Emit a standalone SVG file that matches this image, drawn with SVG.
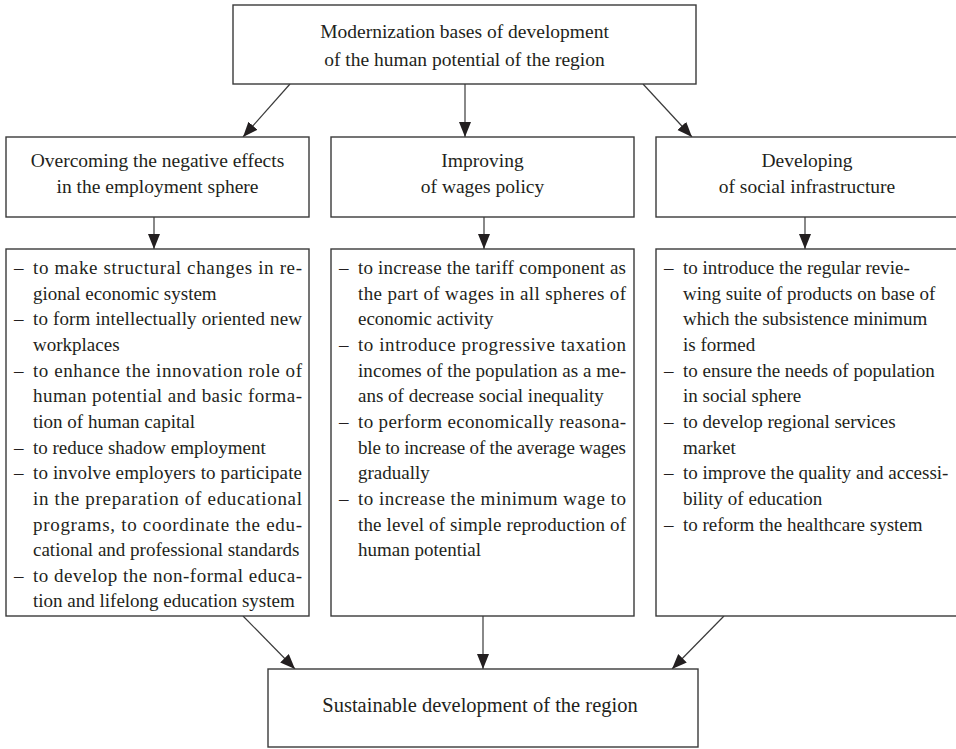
<svg xmlns="http://www.w3.org/2000/svg" width="956" height="749" viewBox="0 0 956 749">
  <defs>
    <marker id="arrow" markerUnits="userSpaceOnUse" markerWidth="16" markerHeight="13" refX="15" refY="6" orient="auto">
      <path d="M0,0 L15,6 L0,12 z" fill="#231f20"/>
    </marker>
    <style>
      .box { fill: #ffffff; stroke: #3a3a3a; stroke-width: 1.4; }
      .title { font-family: "Liberation Serif", "Times New Roman", serif; font-size: 19.5px; fill: #231f20; text-anchor: middle; }
      .item { font-family: "Liberation Serif", "Times New Roman", serif; font-size: 19px; fill: #231f20; }
      .link { stroke: #3a3a3a; stroke-width: 1.2; fill: none; marker-end: url(#arrow); }
    </style>
  </defs>

  <rect width="956" height="749" fill="#ffffff"/>

  <!-- connectors -->
  <g id="connectors">
    <line class="link" x1="290" y1="84" x2="243" y2="137"/>
    <line class="link" x1="465" y1="84" x2="465" y2="137"/>
    <line class="link" x1="643" y1="84" x2="692" y2="137"/>
    <line class="link" x1="154" y1="217" x2="154" y2="249"/>
    <line class="link" x1="484" y1="217" x2="484" y2="249"/>
    <line class="link" x1="805" y1="217" x2="805" y2="249"/>
    <line class="link" x1="243" y1="616" x2="295" y2="669"/>
    <line class="link" x1="483" y1="616" x2="483" y2="669"/>
    <line class="link" x1="724" y1="616" x2="672" y2="669"/>
  </g>

  <!-- root -->
  <g id="modernization">
    <rect class="box" x="233" y="5" width="463" height="79"/>
    <text class="title" x="464.5" y="38">Modernization bases of development</text>
    <text class="title" x="464.5" y="66">of the human potential of the region</text>
  </g>

  <!-- directions -->
  <g id="employment">
    <rect class="box" x="6" y="137" width="303" height="80"/>
    <text class="title" x="157.5" y="167">Overcoming the negative effects</text>
    <text class="title" x="157.5" y="193">in the employment sphere</text>
  </g>
  <g id="wages">
    <rect class="box" x="331" y="137" width="303" height="80"/>
    <text class="title" x="482.5" y="167">Improving</text>
    <text class="title" x="482.5" y="193">of wages policy</text>
  </g>
  <g id="infrastructure">
    <rect class="box" x="656" y="137" width="304" height="80"/>
    <text class="title" x="807" y="167">Developing</text>
    <text class="title" x="807" y="193">of social infrastructure</text>
  </g>

  <!-- measures: employment -->
  <g id="employment-measures">
    <rect class="box" x="6" y="249" width="303" height="367"/>
    <text class="item" x="14" y="274">–</text>
    <text class="item" x="33" y="274" textLength="269" lengthAdjust="spacing">to make structural changes in re-</text>
    <text class="item" x="33" y="299.6">gional economic system</text>
    <text class="item" x="14" y="325.3">–</text>
    <text class="item" x="33" y="325.3" textLength="269" lengthAdjust="spacing">to form intellectually oriented new</text>
    <text class="item" x="33" y="350.9">workplaces</text>
    <text class="item" x="14" y="376.6">–</text>
    <text class="item" x="33" y="376.6" textLength="269" lengthAdjust="spacing">to enhance the innovation role of</text>
    <text class="item" x="33" y="402.2" textLength="269" lengthAdjust="spacing">human potential and basic forma-</text>
    <text class="item" x="33" y="427.9">tion of human capital</text>
    <text class="item" x="14" y="453.5">–</text>
    <text class="item" x="33" y="453.5">to reduce shadow employment</text>
    <text class="item" x="14" y="479.2">–</text>
    <text class="item" x="33" y="479.2" textLength="269" lengthAdjust="spacing">to involve employers to participate</text>
    <text class="item" x="33" y="504.8" textLength="269" lengthAdjust="spacing">in the preparation of educational</text>
    <text class="item" x="33" y="530.5" textLength="269" lengthAdjust="spacing">programs, to coordinate the edu-</text>
    <text class="item" x="33" y="556.1">cational and professional standards</text>
    <text class="item" x="14" y="581.8">–</text>
    <text class="item" x="33" y="581.8" textLength="269" lengthAdjust="spacing">to develop the non-formal educa-</text>
    <text class="item" x="33" y="607.4">tion and lifelong education system</text>
  </g>

  <!-- measures: wages -->
  <g id="wages-measures">
    <rect class="box" x="331" y="249" width="303" height="367"/>
    <text class="item" x="339" y="274">–</text>
    <text class="item" x="358" y="274" textLength="268" lengthAdjust="spacing">to increase the tariff component as</text>
    <text class="item" x="358" y="299.6" textLength="268" lengthAdjust="spacing">the part of wages in all spheres of</text>
    <text class="item" x="358" y="325.3">economic activity</text>
    <text class="item" x="339" y="350.9">–</text>
    <text class="item" x="358" y="350.9" textLength="268" lengthAdjust="spacing">to introduce progressive taxation</text>
    <text class="item" x="358" y="376.6" textLength="268" lengthAdjust="spacing">incomes of the population as a me-</text>
    <text class="item" x="358" y="402.2">ans of decrease social inequality</text>
    <text class="item" x="339" y="427.9">–</text>
    <text class="item" x="358" y="427.9" textLength="268" lengthAdjust="spacing">to perform economically reasona-</text>
    <text class="item" x="358" y="453.5" textLength="268" lengthAdjust="spacing">ble to increase of the average wages</text>
    <text class="item" x="358" y="479.2">gradually</text>
    <text class="item" x="339" y="504.8">–</text>
    <text class="item" x="358" y="504.8" textLength="268" lengthAdjust="spacing">to increase the minimum wage to</text>
    <text class="item" x="358" y="530.5" textLength="268" lengthAdjust="spacing">the level of simple reproduction of</text>
    <text class="item" x="358" y="556.1">human potential</text>
  </g>

  <!-- measures: social infrastructure -->
  <g id="infrastructure-measures">
    <rect class="box" x="656" y="249" width="304" height="367"/>
    <text class="item" x="664" y="274">–</text>
    <text class="item" x="683" y="274">to introduce the regular revie-</text>
    <text class="item" x="683" y="299.6">wing suite of products on base of</text>
    <text class="item" x="683" y="325.3">which the subsistence minimum</text>
    <text class="item" x="683" y="350.9">is formed</text>
    <text class="item" x="664" y="376.6">–</text>
    <text class="item" x="683" y="376.6">to ensure the needs of population</text>
    <text class="item" x="683" y="402.2">in social sphere</text>
    <text class="item" x="664" y="427.9">–</text>
    <text class="item" x="683" y="427.9">to develop regional services</text>
    <text class="item" x="683" y="453.5">market</text>
    <text class="item" x="664" y="479.2">–</text>
    <text class="item" x="683" y="479.2">to improve the quality and accessi-</text>
    <text class="item" x="683" y="504.8">bility of education</text>
    <text class="item" x="664" y="530.5">–</text>
    <text class="item" x="683" y="530.5">to reform the healthcare system</text>
  </g>

  <!-- outcome -->
  <g id="sustainable">
    <rect class="box" x="268" y="669" width="430" height="78"/>
    <text class="title" x="480" y="712" style="font-size:20.5px">Sustainable development of the region</text>
  </g>
</svg>
